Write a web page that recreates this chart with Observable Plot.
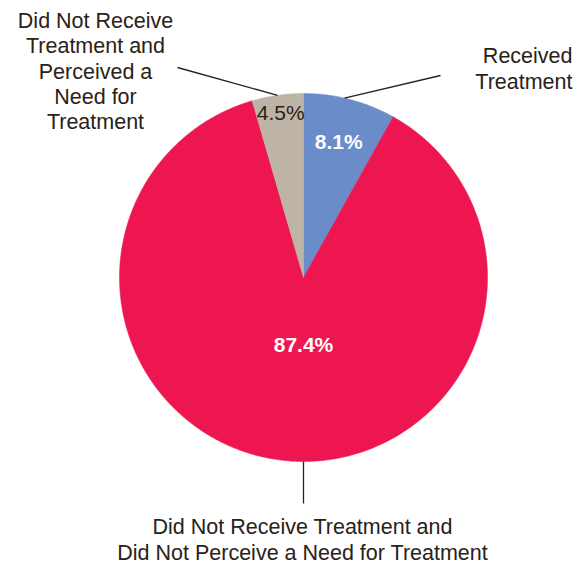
<!DOCTYPE html>
<html>
<head>
<meta charset="utf-8">
<script src="https://cdn.jsdelivr.net/npm/d3@7"></script>
<script src="https://cdn.jsdelivr.net/npm/@observablehq/plot@0.6"></script>
<style>
  html, body { margin: 0; padding: 0; background: #fff; }
  #chart { width: 580px; height: 565px; }
</style>
</head>
<body>
<div id="chart"></div>
<script>
// ---- data ----
const categories = [
  "Received Treatment",
  "Did Not Receive Treatment and Did Not Perceive a Need for Treatment",
  "Did Not Receive Treatment and Perceived a Need for Treatment"
];
const values = [8.1, 87.4, 4.5];
const valueLabels = ["8.1%", "87.4%", "4.5%"];
const outerLabels = [
  "Received\nTreatment",
  "Did Not Receive Treatment and\nDid Not Perceive a Need for Treatment",
  "Did Not Receive\nTreatment and\nPerceived a\nNeed for\nTreatment"
];
const colors = ["#6a8cc8", "#ee1651", "#bdb4a5"];

// ---- geometry (unit circle, y up) ----
const R = 184, cx = 303, cy = 277, W = 580, H = 565;
const total = d3.sum(values);
const slices = [];
let acc = 0;
values.forEach((v, i) => {
  const a0 = acc / total * 2 * Math.PI;
  acc += v;
  const a1 = acc / total * 2 * Math.PI;
  slices.push({cat: categories[i], a0, a1, mid: (a0 + a1) / 2, i});
});
const pt = (a, r) => [r * Math.sin(a), r * Math.cos(a)];

const arcPts = [];
slices.forEach(s => {
  const n = Math.max(4, Math.ceil((s.a1 - s.a0) / 0.01));
  arcPts.push({cat: s.cat, x: 0, y: 0});
  for (let k = 0; k <= n; k++) {
    const a = s.a0 + (s.a1 - s.a0) * k / n;
    const [x, y] = pt(a, 1);
    arcPts.push({cat: s.cat, x, y});
  }
  arcPts.push({cat: s.cat, x: 0, y: 0});
});

// value labels
const innerPos = [
  {a: slices[0].mid, r: 0.76},
  {a: Math.PI, r: 0.37},
  {a: slices[2].mid + 0.003, r: 0.9}
];
const inner = innerPos.map((p, i) => {
  const [x, y] = pt(p.a, p.r);
  return {x, y, text: valueLabels[i], weight: i === 2 ? "normal" : "bold"};
});

// leader lines
const px = v => (v - cx) / R, py = v => (cy - v) / R;
const [b0x, b0y] = pt(slices[0].mid - 0.03, 1.0);
const [t0x, t0y] = pt(slices[2].mid, 1.0);
const leaders = [
  {x1: b0x, y1: b0y, x2: px(440), y2: py(75)},
  {x1: 0, y1: -1, x2: 0, y2: py(503)},
  {x1: t0x, y1: t0y, x2: px(177), y2: py(67)}
];
const outer = [
  {x: px(572), y: py(67), text: outerLabels[0], anchor: "end"},
  {x: px(302), y: py(538.5), text: outerLabels[1], anchor: "middle"},
  {x: px(95), y: py(70), text: outerLabels[2], anchor: "middle"}
];

const font = "'Liberation Sans', Arial, Helvetica, sans-serif";
const ink = "#2a2217";
const chart = Plot.plot({
  width: W, height: H,
  margin: 0,
  x: {domain: [-cx / R, (W - cx) / R], axis: null},
  y: {domain: [-(H - cy) / R, cy / R], axis: null},
  color: {domain: categories, range: colors},
  style: {fontFamily: font, background: "#fff"},
  marks: [
    Plot.line(arcPts, {x: "x", y: "y", z: "cat", fill: "cat", stroke: "cat", strokeWidth: 0.5, curve: "linear"}),
    Plot.link(leaders, {x1: "x1", y1: "y1", x2: "x2", y2: "y2", stroke: ink, strokeWidth: 1.3}),
    Plot.text(inner.filter(d => d.weight === "bold"), {x: "x", y: "y", text: "text", fill: "#fff", fontSize: 21, fontWeight: "bold"}),
    Plot.text(inner.filter(d => d.weight !== "bold"), {x: "x", y: "y", text: "text", fill: ink, fontSize: 21}),
    Plot.text(outer.filter(d => d.anchor === "end"), {x: "x", y: "y", text: "text", fill: ink, fontSize: 21.5, lineHeight: 1.2, textAnchor: "end"}),
    Plot.text(outer.filter(d => d.anchor !== "end"), {x: "x", y: "y", text: "text", fill: ink, fontSize: 21.5, lineHeight: 1.17, textAnchor: "middle"})
  ]
});
document.getElementById("chart").appendChild(chart);
</script>
</body>
</html>
